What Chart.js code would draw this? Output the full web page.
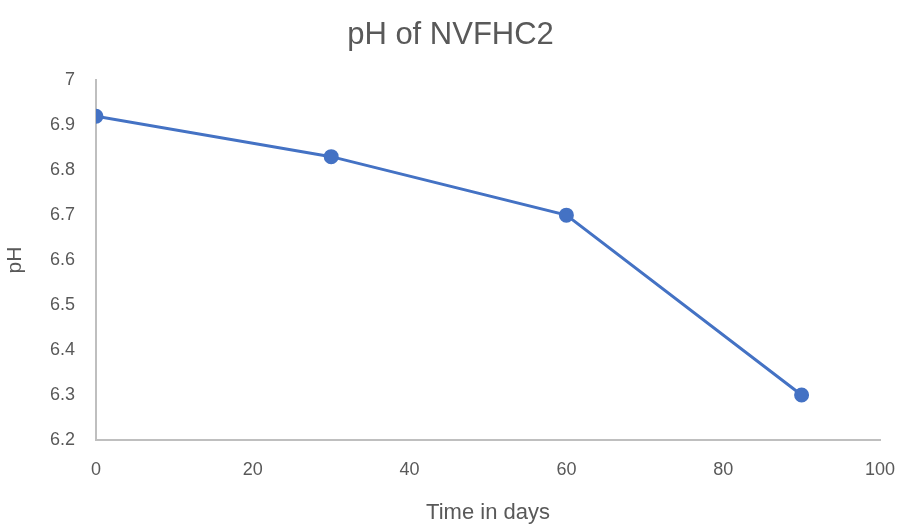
<!DOCTYPE html>
<html>
<head>
<meta charset="utf-8">
<script src="https://cdn.jsdelivr.net/npm/chart.js@4"></script>
<style>
  html, body { margin: 0; padding: 0; background: #fff; }
  #wrap { width: 901px; height: 524px; }
</style>
</head>
<body>
<div id="wrap"><canvas id="chart" width="901" height="524"></canvas></div>
<script>
const titleText = "pH of NVFHC2";
const days = [0, 30, 60, 90];
const phValues = [6.92, 6.83, 6.70, 6.30];
const xTitle = "Time in days";
const yTitle = "pH";

const lineColor = "#4472C4";
const textColor = "#595959";
const axisColor = "#BFBFBF";
const fontFamily = "'Liberation Sans', 'Noto Sans', sans-serif";

const points = days.map((d, i) => ({ x: d, y: phValues[i] }));

new Chart(document.getElementById("chart"), {
  type: "scatter",
  data: {
    datasets: [{
      label: "pH",
      data: points,
      showLine: true,
      borderColor: lineColor,
      backgroundColor: lineColor,
      borderWidth: 3,
      pointRadius: 6,
      pointHoverRadius: 6,
      tension: 0
    }]
  },
  options: {
    responsive: false,
    animation: false,
    layout: { padding: { left: 0, right: 0, top: 8, bottom: 0 } },
    plugins: {
      legend: { display: false },
      tooltip: { enabled: false },
      title: {
        display: true,
        text: titleText,
        color: textColor,
        font: { family: fontFamily, size: 31, weight: "normal" },
        padding: { top: 9, bottom: 26 }
      }
    },
    scales: {
      x: {
        type: "linear",
        min: 0,
        max: 100,
        ticks: { stepSize: 20, color: textColor, font: { family: fontFamily, size: 18 }, padding: 19 },
        grid: { display: false, drawTicks: false },
        border: { color: axisColor, width: 2 },
        title: { display: true, text: xTitle, color: textColor, font: { family: fontFamily, size: 22, lineHeight: 1 }, padding: { top: 0, bottom: 0 } },
        afterFit: (scale) => { scale.height = 84; scale.paddingRight = 21; scale.paddingLeft = 0; }
      },
      y: {
        min: 6.2,
        max: 7,
        ticks: {
          stepSize: 0.1,
          color: textColor,
          font: { family: fontFamily, size: 18 },
          padding: 21,
          callback: (v) => Number(v.toFixed(1)).toString()
        },
        grid: { display: false, drawTicks: false },
        border: { color: axisColor, width: 2 },
        title: { display: true, text: yTitle, color: textColor, font: { family: fontFamily, size: 21, lineHeight: 1 }, padding: { top: 5, bottom: 0 } },
        afterFit: (scale) => { scale.width = 96; }
      }
    }
  }
});
</script>
</body>
</html>
